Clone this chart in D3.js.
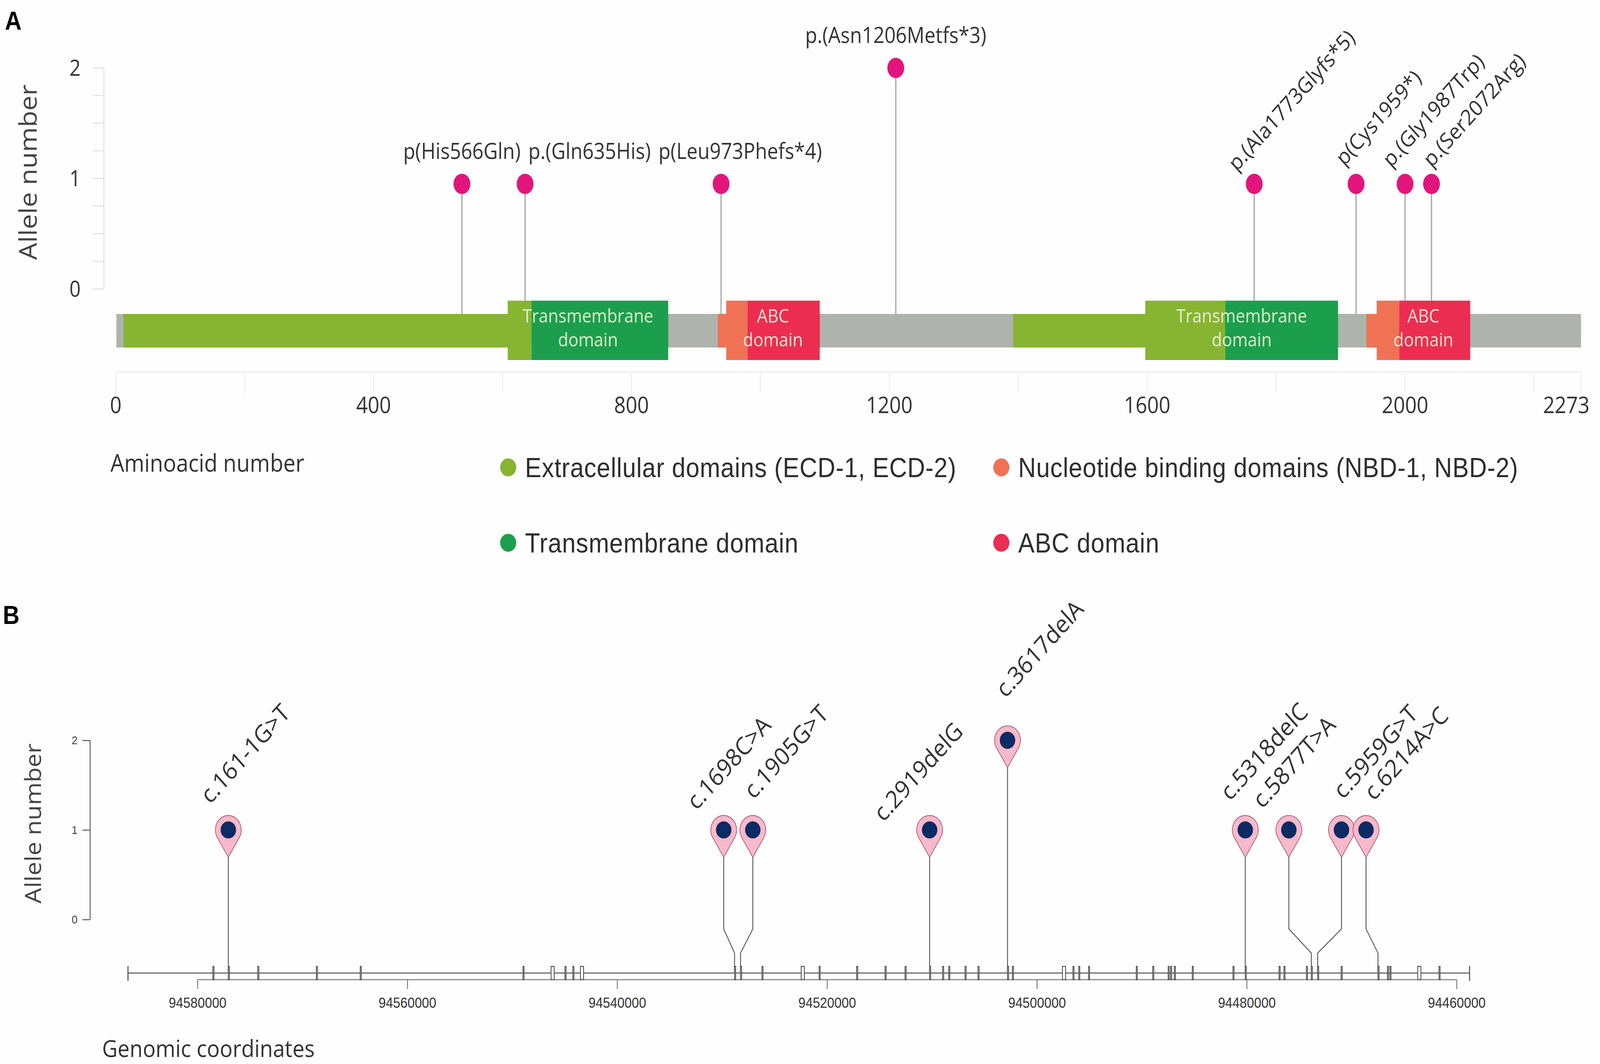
<!DOCTYPE html>
<html>
<head>
<meta charset="utf-8">
<script src="https://cdn.jsdelivr.net/npm/d3@7"></script>
<style>
  html, body { margin: 0; padding: 0; background: #ffffff; overflow: hidden; }
  #chart svg { display: block; width: 100vw; height: 100vh; }
  text { font-family: "Open Sans", sans-serif; }
</style>
</head>
<body>
<div id="chart"></div>
<script>
// ---- panel A data (protein) ----
var proteinLength = 2273;
var aaTickValues = [0, 400, 800, 1200, 1600, 2000, 2273];

var segTypes = ["ECD", "TMD", "NBD", "ABC", "ECD", "TMD", "NBD", "ABC"];
var segStart = [12, 645, 934, 980, 1392, 1721, 1940, 1991];
var segEnd   = [645, 857, 980, 1092, 1721, 1896, 1991, 2101];

var boxNames = [["Transmembrane", "domain"], ["ABC", "domain"], ["Transmembrane", "domain"], ["ABC", "domain"]];
var boxStart = [608, 947, 1597, 1956];
var boxEnd   = [857, 1092, 1896, 2101];

var protVariants = ["p(His566Gln)", "p.(Gln635His)", "p(Leu973Phefs*4)", "p.(Asn1206Metfs*3)",
                    "p.(Ala1773Glyfs*5)", "p(Cys1959*)", "p.(Gly1987Trp)", "p.(Ser2072Arg)"];
var protPos     = [537, 635, 939, 1210, 1766, 1924, 2000, 2041];
var protAlleles = [1, 1, 1, 2, 1, 1, 1, 1];

var legendNames = ["Extracellular domains (ECD-1, ECD-2)", "Nucleotide binding domains (NBD-1, NBD-2)",
                   "Transmembrane domain", "ABC domain"];
var legendTypes = ["ECD", "NBD", "TMD", "ABC"];

// ---- panel B data (genomic) ----
var genomicTicks = [94580000, 94560000, 94540000, 94520000, 94500000, 94480000, 94460000];
var geneStart = 94586620;
var geneEnd = 94458760;
var exonStarts = [94578529, 94577058, 94574249, 94568665, 94564486, 94548971, 94546300, 94544973,
                  94544223, 94543500, 94528809, 94528241, 94526201, 94522460, 94520751, 94517174,
                  94514465, 94512559, 94510219, 94508982, 94508397, 94506842, 94505605, 94502797,
                  94502329, 94497560, 94496561, 94496009, 94495073, 94490525, 94488954, 94487483,
                  94487249, 94486898, 94485189, 94481310, 94480137, 94476917, 94476449, 94474309,
                  94473841, 94473239, 94471000, 94467488, 94466585, 94466351, 94463700, 94461671];
var exonLengths = [100, 100, 100, 100, 100, 100, 300, 100,
                   100, 300, 100, 100, 100, 300, 100, 100,
                   100, 100, 100, 100, 100, 100, 100, 100,
                   100, 300, 100, 100, 100, 100, 100, 100,
                   100, 100, 100, 100, 100, 100, 100, 100,
                   100, 100, 100, 100, 100, 100, 300, 100];

var dnaVariants = ["c.161-1G>T", "c.1698C>A", "c.1905G>T", "c.2919delG", "c.3617delA",
                   "c.5318delC", "c.5877T>A", "c.5959G>T", "c.6214A>C"];
var dnaPos     = [94577058, 94528809, 94528241, 94510219, 94502797, 94480137, 94473841, 94473239, 94467488];
var dnaPinPos  = [94577058, 94529846, 94527071, 94510219, 94502797, 94480137, 94475983, 94470968, 94468627];
var dnaAlleles = [1, 1, 1, 1, 2, 1, 1, 1, 1];

// label nudges (px, from head centre to text start)
var protLabelNudge = [null, null, null, null, [-50, -30], [-34, -44], [-40, -40], [0, -40]];
var dnaLabelNudge = [[-52, -64], [-78, -48], [2, -76], [-132, -18], [-6, -106],
                     [-44, -72], [-76, -52], [4, -76], [22, -72]];

var colors = { ECD: "#87b431", TMD: "#1b9f4c", NBD: "#f07255", ABC: "#ec2d52" };

var W = 4562, H = 2725;
var svg = d3.select("#chart").append("svg")
  .attr("viewBox", "0 0 " + W + " " + H)
  .attr("preserveAspectRatio", "none");

svg.append("rect").attr("width", W).attr("height", H).attr("fill", "#fefefe");

// ================= PANEL A =================
var x = d3.scaleLinear().domain([0, proteinLength]).range([330, 4508]);
var y = d3.scaleLinear().domain([0, 2]).range([740, 174]);
var barTop = 804, barBot = 890, boxTop = 770, boxBot = 922;
var headDrop = 14; // heads sit a little under the tick line in the original

svg.append("text").attr("x", 14).attr("y", 76)
  .style("font-family", "Liberation Sans, Arial, sans-serif")
  .style("font-weight", "bold").style("font-size", "66px").text("A");

// y axis
var yAxisA = svg.append("g").attr("transform", "translate(296,0)");
yAxisA.append("line").attr("y1", y(0)).attr("y2", y(2)).attr("stroke", "#e4e4e4").attr("stroke-width", 3);
yAxisA.selectAll("line.tk").data(d3.range(0, 2.01, 0.25)).enter().append("line")
  .attr("class", "tk")
  .attr("x1", -32).attr("x2", 0)
  .attr("y1", function(d) { return y(d); }).attr("y2", function(d) { return y(d); })
  .attr("stroke", "#e4e4e4").attr("stroke-width", 3);
yAxisA.selectAll("text").data([0, 1, 2]).enter().append("text")
  .attr("x", -82).attr("y", function(d) { return y(d) + 20; })
  .attr("text-anchor", "middle")
  .style("font-size", "56px").attr("fill", "#333")
  .text(function(d) { return d; });

svg.append("text")
  .attr("transform", "translate(105,441) rotate(-90)")
  .attr("text-anchor", "middle")
  .style("font-size", "69px").attr("fill", "#444")
  .text("Allele number");

// x axis (grid style)
var gridVals = d3.range(0, proteinLength, 200).concat([proteinLength]);
svg.append("line").attr("x1", x(0)).attr("x2", x(proteinLength)).attr("y1", 952).attr("y2", 952)
  .attr("stroke", "#ececec").attr("stroke-width", 3);
svg.selectAll("line.gridA").data(gridVals).enter().append("line")
  .attr("class", "gridA")
  .attr("x1", function(d) { return x(d); }).attr("x2", function(d) { return x(d); })
  .attr("y1", 955).attr("y2", 1006)
  .attr("stroke", "#eeeeee").attr("stroke-width", 3);
svg.selectAll("text.xlabA").data(aaTickValues).enter().append("text")
  .attr("class", "xlabA")
  .attr("x", function(d) { return d === proteinLength ? x(d) - 42 : x(d); })
  .attr("y", 1058)
  .attr("text-anchor", "middle")
  .style("font-size", "58px").attr("fill", "#333")
  .text(function(d) { return d; });

svg.append("text").attr("x", 315).attr("y", 1208)
  .style("font-size", "62px").attr("fill", "#333")
  .text("Aminoacid number");

// lollipop stems (drawn under the protein bar)
var protData = protVariants.map(function(v, i) {
  return { name: v, pos: protPos[i], n: protAlleles[i], i: i };
});
function headY(d) { return y(d.n) + (d.n === 1 ? headDrop : 0); }

svg.selectAll("line.stemA").data(protData).enter().append("line")
  .attr("class", "stemA")
  .attr("x1", function(d) { return x(d.pos); }).attr("x2", function(d) { return x(d.pos); })
  .attr("y1", headY).attr("y2", barTop + 2)
  .attr("stroke", "#a6a6a6").attr("stroke-width", 3.5);

// protein backbone + domains
svg.append("rect").attr("x", x(1)).attr("y", barTop)
  .attr("width", x(proteinLength) - x(1)).attr("height", barBot - barTop)
  .attr("fill", "#afb3ad");

var segs = segTypes.map(function(t, i) { return { type: t, s: segStart[i], e: segEnd[i] }; });
svg.selectAll("rect.seg").data(segs).enter().append("rect")
  .attr("class", "seg")
  .attr("x", function(d) { return x(d.s); }).attr("y", barTop)
  .attr("width", function(d) { return x(d.e) - x(d.s); }).attr("height", barBot - barTop)
  .attr("fill", function(d) { return colors[d.type]; });

// tall boxes: every segment piece inside a box is drawn tall
var boxes = boxNames.map(function(n, i) { return { name: n, s: boxStart[i], e: boxEnd[i] }; });
var tallPieces = [];
boxes.forEach(function(b) {
  segs.forEach(function(sg) {
    var s = Math.max(b.s, sg.s), e = Math.min(b.e, sg.e);
    if (e > s) tallPieces.push({ type: sg.type, s: s, e: e });
  });
});
svg.selectAll("rect.tall").data(tallPieces).enter().append("rect")
  .attr("class", "tall")
  .attr("x", function(d) { return x(d.s); }).attr("y", boxTop)
  .attr("width", function(d) { return x(d.e) - x(d.s); }).attr("height", boxBot - boxTop)
  .attr("fill", function(d) { return colors[d.type]; });

var boxText = svg.selectAll("text.boxlab").data(boxes).enter().append("text")
  .attr("class", "boxlab")
  .attr("text-anchor", "middle")
  .style("font-size", "48px")
  .attr("fill", "#eef6dc").attr("fill-opacity", 0.92);
boxText.append("tspan")
  .attr("x", function(d) { return x((d.s + d.e) / 2); }).attr("y", 826)
  .text(function(d) { return d.name[0]; });
boxText.append("tspan")
  .attr("x", function(d) { return x((d.s + d.e) / 2); }).attr("y", 887)
  .text(function(d) { return d.name[1]; });

// lollipop heads
svg.selectAll("ellipse.headA").data(protData).enter().append("ellipse")
  .attr("class", "headA")
  .attr("cx", function(d) { return x(d.pos); }).attr("cy", headY)
  .attr("rx", 24).attr("ry", 26)
  .attr("fill", "#e2157c");

// labels: horizontal ones are pushed right when they would overlap
var lastEnd = {};
protData.forEach(function(d) {
  var cx = x(d.pos), cy = headY(d);
  var t = svg.append("text")
    .style("font-size", "56px").attr("fill", "#333")
    .text(d.name);
  var nudge = protLabelNudge[d.i];
  if (nudge) {
    t.attr("transform", "translate(" + (cx + nudge[0]) + "," + (cy + nudge[1]) + ") rotate(-45)");
  } else {
    var w = t.node().getComputedTextLength();
    var start = cx - w / 2;
    var key = d.n;
    if (lastEnd[key] !== undefined && start < lastEnd[key] + 22) start = lastEnd[key] + 22;
    lastEnd[key] = start + w;
    t.attr("x", start).attr("y", cy - 64);
  }
});

// legend
var legend = svg.selectAll("g.leg").data(legendNames).enter().append("g")
  .attr("class", "leg")
  .attr("transform", function(d, i) {
    return "translate(" + (i % 2 === 0 ? 1449 : 2855) + "," + (i < 2 ? 1197 : 1390) + ")";
  });
legend.append("circle").attr("r", 23)
  .attr("fill", function(d, i) { return colors[legendTypes[i]]; });
legend.append("text").attr("x", 48).attr("y", 25)
  .style("font-family", "Liberation Sans, Arial, sans-serif")
  .style("font-size", "70px").style("letter-spacing", "1px").attr("fill", "#2e2e2e")
  .text(function(d) { return d; });

// ================= PANEL B =================
var gx = d3.scaleLinear().domain([94580000, 94460000]).range([563, 4153]);
var gy = d3.scaleLinear().domain([0, 2]).range([2355, 1896]);
var geneY = 2492, axisY = 2509;

svg.append("text").attr("x", 8).attr("y", 1598)
  .style("font-family", "Liberation Sans, Arial, sans-serif")
  .style("font-weight", "bold").style("font-size", "66px").text("B");

var yAxisB = d3.axisLeft(gy).tickValues([0, 1, 2]).tickFormat(d3.format("d")).tickSize(22).tickPadding(14);
var gB = svg.append("g").attr("transform", "translate(257,0)").call(yAxisB);
gB.select(".domain").attr("stroke", "#555").attr("stroke-width", 2.5).attr("d", "M0," + gy(0) + "V" + gy(2));
gB.selectAll(".tick line").attr("stroke", "#555").attr("stroke-width", 2.5);
gB.selectAll(".tick text").style("font-family", "Liberation Sans, Arial, sans-serif")
  .style("font-size", "30px").attr("fill", "#444");

svg.append("text")
  .attr("transform", "translate(117,2109) rotate(-90)")
  .attr("text-anchor", "middle")
  .style("font-size", "63px").attr("fill", "#444")
  .text("Allele number");

var xAxisB = d3.axisBottom(gx).tickValues(genomicTicks).tickFormat(d3.format("d")).tickSize(24).tickPadding(22);
var gxB = svg.append("g").attr("transform", "translate(0," + axisY + ")").call(xAxisB);
gxB.select(".domain").attr("stroke", "#777").attr("stroke-width", 2.5).attr("d", "M" + gx(94580000) + ",0H" + gx(94460000));
gxB.selectAll(".tick line").attr("stroke", "#777").attr("stroke-width", 2.5);
gxB.selectAll(".tick text").style("font-family", "Liberation Sans, Arial, sans-serif")
  .style("font-size", "37px").attr("fill", "#333");

svg.append("text").attr("x", 291).attr("y", 2707)
  .style("font-size", "61px").attr("fill", "#333")
  .text("Genomic coordinates");

// gene line with end caps
svg.append("line").attr("x1", gx(geneStart)).attr("x2", gx(geneEnd)).attr("y1", geneY).attr("y2", geneY)
  .attr("stroke", "#7a7a7a").attr("stroke-width", 3.5);
svg.selectAll("line.cap").data([geneStart, geneEnd]).enter().append("line")
  .attr("class", "cap")
  .attr("x1", function(d) { return gx(d); }).attr("x2", function(d) { return gx(d); })
  .attr("y1", geneY - 18).attr("y2", geneY + 20)
  .attr("stroke", "#555").attr("stroke-width", 3);

// stems with elbows when the pin was moved aside
var dnaData = dnaVariants.map(function(v, i) {
  return { name: v, pos: dnaPos[i], pin: dnaPinPos[i], n: dnaAlleles[i], i: i };
});
var tipDy = 70;
svg.selectAll("path.stemB").data(dnaData).enter().append("path")
  .attr("class", "stemB")
  .attr("d", function(d) {
    var px = gx(d.pin), vx = gx(d.pos), top = gy(d.n) + tipDy;
    if (Math.abs(px - vx) < 1) return "M" + px + "," + top + "V" + geneY;
    return "M" + px + "," + top + "V" + (geneY - 113) + "L" + vx + "," + (geneY - 51) + "V" + geneY;
  })
  .attr("fill", "none").attr("stroke", "#555").attr("stroke-width", 2.5);

// exons
var exons = exonStarts.map(function(s, i) { return { s: s, e: s - exonLengths[i] }; });
svg.selectAll("rect.exon").data(exons).enter().append("rect")
  .attr("class", "exon")
  .attr("x", function(d) { return gx(d.s); }).attr("y", geneY - 17)
  .attr("width", function(d) { return gx(d.e) - gx(d.s); }).attr("height", 34)
  .attr("fill", "#ffffff").attr("stroke", "#444").attr("stroke-width", 2.2);

// pins
var R = 37;
var ty = R * R / tipDy, tx = R * Math.sqrt(1 - (R / tipDy) * (R / tipDy));
var pinPath = "M0," + tipDy + "L" + (-tx) + "," + ty + "A" + R + "," + R + " 0 1 1 " + tx + "," + ty + "Z";
var pins = svg.selectAll("g.pin").data(dnaData).enter().append("g")
  .attr("class", "pin")
  .attr("transform", function(d) { return "translate(" + gx(d.pin) + "," + gy(d.n) + ")"; });
pins.append("path").attr("d", pinPath)
  .attr("fill", "#f8b9c9").attr("stroke", "#a8587a").attr("stroke-width", 2);
pins.append("circle").attr("r", 22).attr("fill", "#0c2a63");

svg.selectAll("text.labB").data(dnaData).enter().append("text")
  .attr("class", "labB")
  .attr("transform", function(d) {
    var nd = dnaLabelNudge[d.i];
    return "translate(" + (gx(d.pin) + nd[0]) + "," + (gy(d.n) + nd[1]) + ") rotate(-45)";
  })
  .style("font-size", "63px").attr("fill", "#333")
  .text(function(d) { return d.name; });
</script>
</body>
</html>
